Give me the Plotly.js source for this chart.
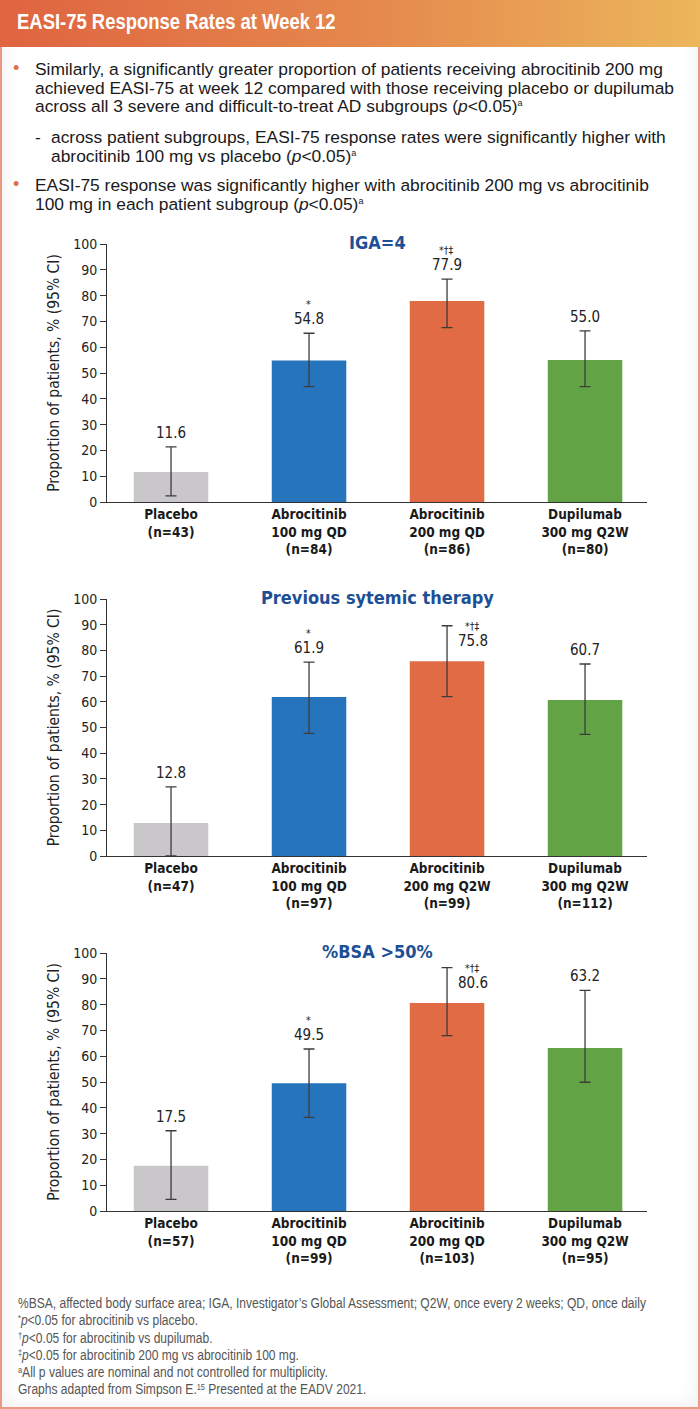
<!DOCTYPE html>
<html>
<head>
<meta charset="utf-8">
<script src="https://cdn.plot.ly/plotly-3.0.1.min.js"></script>
<style>
  html, body { margin:0; padding:0; }
  body { width:700px; height:1409px; position:relative; background:#fff; overflow:hidden; }
  #frame { position:absolute; left:0; top:0; width:700px; height:1409px; box-sizing:border-box;
           border:2px solid #ea9a84; box-shadow: inset 0 0 20px rgba(0,0,0,0.07); background:#fff; }
  #header { position:absolute; left:0; top:0; width:700px; height:47px;
            background: linear-gradient(90deg, #df6440 0%, #e58a4e 55%, #ecb65b 100%); }
  #header span { position:absolute; left:17px; top:9px; color:#fff; font-family:'Liberation Sans', Arial, sans-serif;
                 font-weight:bold; font-size:22.5px; line-height:26px; white-space:nowrap;
                 transform:scaleX(0.82); transform-origin:0 0; }
  .txt { position:absolute; font-family:'Liberation Sans', Arial, sans-serif; font-size:17.4px; line-height:18.7px; color:#1a1a1a; white-space:nowrap; }
  .dot { position:absolute; color:#e07040; font-size:18px; font-family:'Liberation Sans', Arial, sans-serif; }
  .sup { font-size:9px; vertical-align:6px; line-height:0; }
  #foot { position:absolute; left:18px; top:1295px; font-family:'Liberation Sans', Arial, sans-serif; white-space:nowrap;
          font-size:14.7px; line-height:17.3px; color:#555; transform:scaleX(0.82); transform-origin:0 0; }
  #plot { position:absolute; left:0; top:0; width:700px; height:1409px; }
</style>
</head>
<body>
<div id="frame"></div>
<div id="header"><span>EASI-75 Response Rates at Week 12</span></div>

<div class="dot" style="left:13px; top:58px;">•</div>
<div class="txt" style="left:35px; top:60px;">Similarly, a significantly greater proportion of patients receiving abrocitinib 200 mg<br>achieved EASI-75 at week 12 compared with those receiving placebo or dupilumab<br>across all 3 severe and difficult-to-treat AD subgroups (<i>p</i>&lt;0.05)<span class="sup">a</span></div>
<div class="txt" style="left:35px; top:128px;">-</div>
<div class="txt" style="left:51px; top:128px;">across patient subgroups, EASI-75 response rates were significantly higher with<br>abrocitinib 100 mg vs placebo (<i>p</i>&lt;0.05)<span class="sup">a</span></div>
<div class="dot" style="left:13px; top:174px;">•</div>
<div class="txt" style="left:35px; top:176px;">EASI-75 response was significantly higher with abrocitinib 200 mg vs abrocitinib<br>100 mg in each patient subgroup (<i>p</i>&lt;0.05)<span class="sup">a</span></div>

<div id="plot"></div>

<div id="foot">%BSA, affected body surface area; IGA, Investigator’s Global Assessment; Q2W, once every 2 weeks; QD, once daily<br>
<span class="sup" style="vertical-align:4px;">*</span><i>p</i>&lt;0.05 for abrocitinib vs placebo.<br>
<span class="sup" style="vertical-align:4px;">†</span><i>p</i>&lt;0.05 for abrocitinib vs dupilumab.<br>
<span class="sup" style="vertical-align:4px;">‡</span><i>p</i>&lt;0.05 for abrocitinib 200 mg vs abrocitinib 100 mg.<br>
<span class="sup" style="vertical-align:4px;">a</span>All p values are nominal and not controlled for multiplicity.<br>
Graphs adapted from Simpson E.<span class="sup" style="vertical-align:4px;">15</span> Presented at the EADV 2021.</div>

<script>
// ---------- DATA ----------
const chartTitles = ["IGA=4", "Previous sytemic therapy", "%BSA >50%"];

const ticks1 = ["Placebo<br>(n=43)", "Abrocitinib<br>100 mg QD<br>(n=84)", "Abrocitinib<br>200 mg QD<br>(n=86)", "Dupilumab<br>300 mg Q2W<br>(n=80)"];
const values1 = [11.6, 54.8, 77.9, 55.0];
const ciLow1  = [2.4, 44.7, 67.6, 44.7];
const ciHigh1 = [21.4, 65.4, 86.4, 66.3];
const sig1 = ["", "*", "*†‡", ""];

const ticks2 = ["Placebo<br>(n=47)", "Abrocitinib<br>100 mg QD<br>(n=97)", "Abrocitinib<br>200 mg Q2W<br>(n=99)", "Dupilumab<br>300 mg Q2W<br>(n=112)"];
const values2 = [12.8, 61.9, 75.8, 60.7];
const ciLow2  = [0.0, 47.7, 62.0, 47.3];
const ciHigh2 = [26.9, 75.4, 89.6, 74.7];
const sig2 = ["", "*", "*†‡", ""];

const ticks3 = ["Placebo<br>(n=57)", "Abrocitinib<br>100 mg QD<br>(n=99)", "Abrocitinib<br>200 mg QD<br>(n=103)", "Dupilumab<br>300 mg Q2W<br>(n=95)"];
const values3 = [17.5, 49.5, 80.6, 63.2];
const ciLow3  = [4.5, 36.3, 68.0, 49.9];
const ciHigh3 = [31.1, 62.8, 94.3, 85.5];
const sig3 = ["", "*", "*†‡", ""];

const yTitle = "Proportion of patients, % (95% CI)";

// ---------- STYLE / LAYOUT ----------
const barColors = ["#c9c7ca", "#2675bc", "#e06b44", "#62a346"];
const NARROW = "'DejaVu Sans Condensed', 'Liberation Sans', sans-serif";
const H = 1409, W = 700;
const xDom = [107 / W, 647 / W];
// plot areas in px: [top(100), bottom(0)]
const pxAreas = [[244, 502], [599, 856], [953, 1211]];
const besideIdx = [-1, 2, 2]; // label drawn beside the CI bar

const charts = [
  {ticks: ticks1, v: values1, lo: ciLow1, hi: ciHigh1, sig: sig1},
  {ticks: ticks2, v: values2, lo: ciLow2, hi: ciHigh2, sig: sig2},
  {ticks: ticks3, v: values3, lo: ciLow3, hi: ciHigh3, sig: sig3}
];

const traces = [];
const layout = {
  width: W, height: H,
  margin: {l: 0, r: 0, t: 0, b: 0},
  paper_bgcolor: "rgba(0,0,0,0)", plot_bgcolor: "rgba(0,0,0,0)",
  showlegend: false, annotations: [],
  font: {family: NARROW, color: "#222"}
};

charts.forEach((c, k) => {
  const s = k === 0 ? "" : String(k + 1);
  const xa = "x" + s, ya = "y" + s;
  traces.push({
    type: "bar", x: c.ticks, y: c.v, xaxis: xa, yaxis: ya,
    width: 0.54, hoverinfo: "none",
    marker: {color: barColors, line: {width: 0}},
    error_y: {
      type: "data", symmetric: false,
      array: c.hi.map((h, i) => h - c.v[i]),
      arrayminus: c.lo.map((l, i) => c.v[i] - l),
      color: "#3c3c3c", thickness: 1.3, width: 5.5
    }
  });
  const dom = [1 - pxAreas[k][1] / H, 1 - pxAreas[k][0] / H];
  layout["xaxis" + s] = {
    domain: xDom, anchor: ya, type: "category", range: [-0.464, 3.449],
    showline: true, linecolor: "#333", linewidth: 1, ticks: "", showgrid: false, zeroline: false,
    tickfont: {family: NARROW, size: 13.5, color: "#1a1a1a", weight: "bold"}, fixedrange: true
  };
  layout["yaxis" + s] = {
    domain: dom, anchor: xa, range: [0, 100], dtick: 10, tick0: 0,
    showline: true, linecolor: "#333", linewidth: 1, ticks: "outside", ticklen: 6, tickcolor: "#333",
    showgrid: false, zeroline: false, tickfont: {family: NARROW, size: 14, color: "#222"},
    title: {text: yTitle, font: {family: NARROW, size: 15.5, color: "#222"}, standoff: 9}, fixedrange: true
  };
  // chart title
  layout.annotations.push({
    xref: "paper", yref: ya + " domain", x: 377 / W, y: 1, yshift: 2, xanchor: "center", yanchor: "middle",
    text: "<b>" + chartTitles[k] + "</b>", showarrow: false,
    font: {family: NARROW, size: 18, color: "#1c4f95"}
  });
  c.v.forEach((val, i) => {
    const beside = besideIdx[k] === i;
    const xs = beside ? 26 : 0;
    const ys = beside ? -15 : 14;
    layout.annotations.push({
      xref: xa, yref: ya, x: i, y: c.hi[i], xshift: xs, yshift: ys,
      text: val.toFixed(1), showarrow: false, xanchor: "center", yanchor: "middle",
      font: {family: NARROW, size: 15, color: "#222"}
    });
    if (c.sig[i]) {
      layout.annotations.push({
        xref: xa, yref: ya, x: i, y: c.hi[i], xshift: xs - 1, yshift: ys + 15,
        text: c.sig[i], showarrow: false, xanchor: "center", yanchor: "middle",
        font: {family: NARROW, size: 10.5, color: "#222"}
      });
    }
  });
});

Plotly.newPlot("plot", traces, layout, {staticPlot: true, displayModeBar: false});
</script>
</body>
</html>
